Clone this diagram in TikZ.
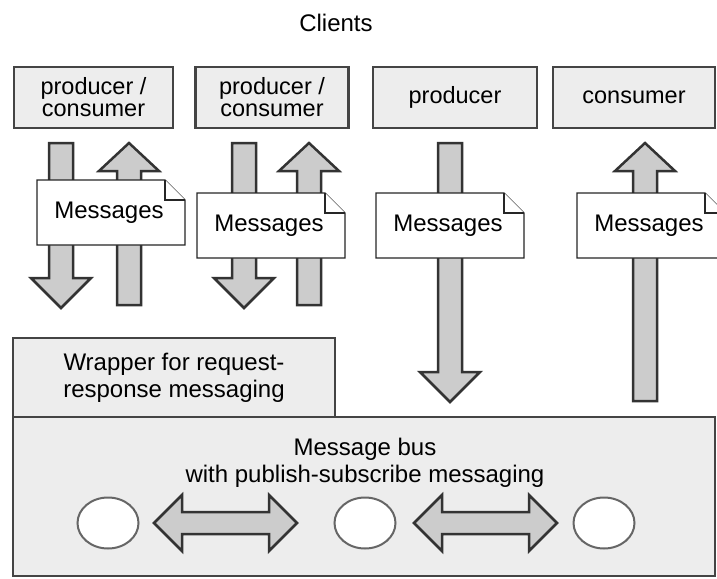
\documentclass[tikz,border=0pt]{standalone}
\usepackage{fontspec}
\setmainfont{Liberation Sans}
\usetikzlibrary{shapes.geometric}
\definecolor{boxfill}{HTML}{EDEDED}
\definecolor{boxline}{HTML}{444444}
\definecolor{arrowfill}{HTML}{CCCCCC}
\definecolor{arrowline}{HTML}{333333}
\definecolor{ringline}{HTML}{666666}
% block arrows: centre x, start y, tip y
\newcommand{\arrowdown}[3]{\filldraw[blockarrow] (#1-12,#2) -- (#1+12,#2) -- (#1+12,#3-30) -- (#1+30,#3-30) -- (#1,#3) -- (#1-30,#3-30) -- (#1-12,#3-30) -- cycle;}
\newcommand{\arrowup}[3]{\filldraw[blockarrow] (#1-12,#2) -- (#1+12,#2) -- (#1+12,#3+28) -- (#1+30,#3+28) -- (#1,#3) -- (#1-30,#3+28) -- (#1-12,#3+28) -- cycle;}
% double arrow: y, left tip x, right tip x
\newcommand{\arrowboth}[3]{\filldraw[blockarrow] (#2,#1) -- (#2+28,#1-28) -- (#2+28,#1-11) -- (#3-28,#1-11) -- (#3-28,#1-28) -- (#3,#1) -- (#3-28,#1+28) -- (#3-28,#1+11) -- (#2+28,#1+11) -- (#2+28,#1+28) -- cycle;}
% note with folded corner: name, left x, top y
\newcommand{\msgnote}[3]{\filldraw[notebox] (#2,#3) -- (#2+128,#3) -- (#2+148,#3+20) -- (#2+148,#3+65) -- (#2,#3+65) -- cycle;
  \draw[notebox] (#2+128,#3) |- (#2+148,#3+20);
  \node[msgtext] (#1) at (#2+72,#3+33) {Messages};}
\begin{document}
\begin{tikzpicture}
  [x=1pt,y=-1pt,
   client/.style={rectangle,draw=boxline,fill=boxfill,line width=2.6pt,align=center,
                  outer sep=0,minimum height=61pt,inner sep=0,
                  font=\fontsize{23.5}{22}\selectfont},
   layer/.style={rectangle,draw=boxline,fill=boxfill,line width=2.6pt,
                 outer sep=0,inner sep=0},
   blockarrow/.style={draw=arrowline,fill=arrowfill,line width=2.5pt,line join=miter},
   notebox/.style={draw=black!85,fill=white,line width=1.3pt},
   msgtext/.style={font=\fontsize{24}{26}\selectfont},
   ring/.style={ellipse,draw=ringline,fill=white,line width=2pt,
                minimum width=61pt,minimum height=51pt,inner sep=0}]
  \useasboundingbox (0,0) rectangle (717,578);
  \node[msgtext] (clients) at (336,23) {Clients};
  \node[client,minimum width=159pt] (pc1) at (93.5,97.5) {producer /\\consumer};
  \node[client,minimum width=153pt] (pc2) at (272,97.5) {producer /\\consumer};
  \node[client,minimum width=164pt] (prod) at (455,97.5) {producer};
  \node[client,minimum width=162pt] (cons) at (634,97.5) {consumer};
  % arrows between clients and bus
  \arrowdown{61}{143}{308}
  \arrowup{129}{305}{143}
  \arrowdown{244}{143}{308}
  \arrowup{309}{305}{143}
  \arrowdown{450}{143}{402}
  \arrowup{645}{401}{143}
  \msgnote{msg1}{37}{180}
  \msgnote{msg2}{197}{193}
  \msgnote{msg3}{376}{193}
  \msgnote{msg4}{577}{193}
  % bus and wrapper
  \node[layer,minimum width=322pt,minimum height=79pt,align=center,
        font=\fontsize{24}{27}\selectfont] (wrap) at (174,377.5) {Wrapper for request-\\response messaging};
  \node[layer,minimum width=702pt,minimum height=159pt] (bus) at (364,496.5) {};
  \node[align=center,font=\fontsize{24}{27}\selectfont] (bustitle) at (365,463) {Message bus\\with publish-subscribe messaging};
  \node[ring] (sub1) at (108,523) {};
  \node[ring] (sub2) at (365,523) {};
  \node[ring] (sub3) at (604,523) {};
  \arrowboth{523}{154}{297}
  \arrowboth{523}{414}{557}
\end{tikzpicture}
\end{document}
